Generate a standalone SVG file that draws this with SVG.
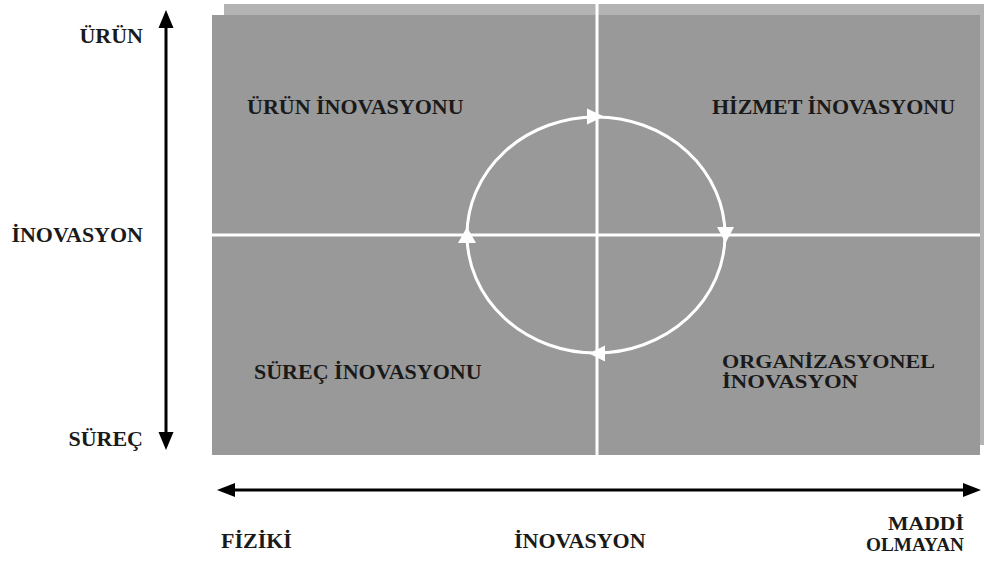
<svg xmlns="http://www.w3.org/2000/svg" width="985" height="563" viewBox="0 0 985 563">
<style>
.t{font-family:"Liberation Serif","Times New Roman",serif;font-weight:bold;font-size:22px;fill:#1a1a1a}
.s{font-size:19px}
.w{stroke:#ffffff;stroke-width:3;fill:none}
.k{stroke:#000000;stroke-width:3;fill:none}
.wh{fill:#ffffff}
.kh{fill:#000000}
</style>
<rect width="985" height="563" fill="#ffffff"/>
<g id="panel">
<rect x="224" y="4" width="760" height="441" fill="#b3b3b3"/>
<rect x="212" y="15" width="768" height="440" fill="#999999"/>
</g>
<g id="connectors">
<line class="w" x1="597" y1="4" x2="597" y2="455"/>
<line class="w" x1="212" y1="235" x2="980" y2="235"/>
<ellipse class="w" cx="596" cy="235" rx="129" ry="118"/>
<polygon class="wh" points="587,108.5 587,124.5 604,116.5"/>
<polygon class="wh" points="717,227 734,227 725.5,243"/>
<polygon class="wh" points="605,345.5 605,361.5 589,353.5"/>
<polygon class="wh" points="458,243 476,243 467,227"/>
<line class="k" x1="166" y1="26" x2="166" y2="434"/>
<polygon class="kh" points="166,10 158.5,28 173.5,28"/>
<polygon class="kh" points="166,450 158.5,432 173.5,432"/>
<line class="k" x1="233" y1="490" x2="965" y2="490"/>
<polygon class="kh" points="217,490 235,483 235,497"/>
<polygon class="kh" points="981,490 963,483 963,497"/>
</g>
<g id="axis-vertical">
<text class="t" x="143" y="43" text-anchor="end">ÜRÜN</text>
<text class="t" x="143" y="242" text-anchor="end">İNOVASYON</text>
<text class="t" x="143" y="446" text-anchor="end">SÜREÇ</text>
</g>
<g id="urun-inovasyonu"><text class="t" x="247" y="114">ÜRÜN İNOVASYONU</text></g>
<g id="hizmet-inovasyonu"><text class="t" x="712" y="114">HİZMET İNOVASYONU</text></g>
<g id="surec-inovasyonu"><text class="t" x="254" y="379">SÜREÇ İNOVASYONU</text></g>
<g id="organizasyonel-inovasyon">
<text class="t s" x="722" y="368" textLength="213" lengthAdjust="spacingAndGlyphs">ORGANİZASYONEL</text>
<text class="t s" x="722" y="388" textLength="136" lengthAdjust="spacingAndGlyphs">İNOVASYON</text>
</g>
<g id="axis-horizontal">
<text class="t" x="221" y="548">FİZİKİ</text>
<text class="t" x="514" y="548">İNOVASYON</text>
<text class="t s" x="964" y="530" text-anchor="end" textLength="76" lengthAdjust="spacingAndGlyphs">MADDİ</text>
<text class="t s" x="964" y="551" text-anchor="end" textLength="98" lengthAdjust="spacingAndGlyphs">OLMAYAN</text>
</g>
</svg>
